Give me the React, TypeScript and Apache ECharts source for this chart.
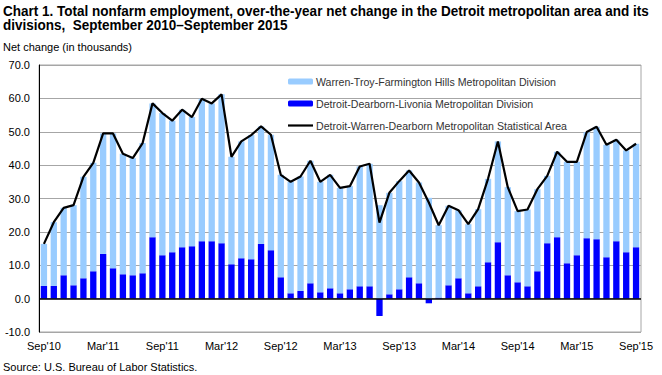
import React, { useEffect, useRef } from "react";
import * as echarts from "echarts";

const months = [
  "Sep'10","Oct'10","Nov'10","Dec'10","Jan'11","Feb'11","Mar'11","Apr'11","May'11","Jun'11","Jul'11","Aug'11",
  "Sep'11","Oct'11","Nov'11","Dec'11","Jan'12","Feb'12","Mar'12","Apr'12","May'12","Jun'12","Jul'12","Aug'12",
  "Sep'12","Oct'12","Nov'12","Dec'12","Jan'13","Feb'13","Mar'13","Apr'13","May'13","Jun'13","Jul'13","Aug'13",
  "Sep'13","Oct'13","Nov'13","Dec'13","Jan'14","Feb'14","Mar'14","Apr'14","May'14","Jun'14","Jul'14","Aug'14",
  "Sep'14","Oct'14","Nov'14","Dec'14","Jan'15","Feb'15","Mar'15","Apr'15","May'15","Jun'15","Jul'15","Aug'15",
  "Sep'15",
];

const warrenTroy = [
  12.6, 19.1, 20.2, 24.0, 30.4, 32.5, 36.1, 40.4, 36.1, 35.1, 39.0, 40.1,
  42.6, 39.4, 41.2, 38.7, 42.7, 41.3, 44.6, 32.2, 35.0, 37.2, 35.2, 34.6,
  30.7, 33.4, 34.3, 36.7, 33.1, 34.0, 31.6, 30.9, 35.9, 36.7, 28.0, 30.4,
  32.4, 32.0, 30.2, 30.2, 21.7, 23.8, 20.4, 20.7, 23.1, 25.0, 30.2, 26.4,
  21.3, 23.0, 24.6, 20.2, 25.6, 30.4, 28.0, 31.8, 33.7, 33.7, 30.4, 30.5,
  31.0,
];

const detroitDearborn = [
  3.8, 3.8, 7.0, 4.0, 6.1, 8.2, 13.4, 9.1, 7.3, 7.0, 7.6, 18.4,
  13.0, 13.9, 15.4, 15.7, 17.2, 17.2, 16.6, 10.3, 12.1, 11.8, 16.4, 14.5,
  6.4, 1.6, 2.3, 4.6, 1.9, 3.1, 1.6, 2.8, 3.7, 3.7, -5.2, 1.3,
  2.8, 6.4, 4.6, -1.4, 0.3, 4.0, 6.1, 1.6, 3.7, 10.9, 16.9, 7.0,
  4.9, 3.7, 8.2, 16.6, 18.4, 10.6, 13.0, 18.1, 17.8, 12.4, 17.2, 13.9,
  15.4,
];

const msaTotal = [
  16.4, 22.9, 27.2, 28.0, 36.5, 40.7, 49.5, 49.5, 43.4, 42.1, 46.6, 58.5,
  55.6, 53.3, 56.6, 54.4, 59.9, 58.5, 61.2, 42.5, 47.1, 49.0, 51.6, 49.1,
  37.1, 35.0, 36.6, 41.3, 35.0, 37.1, 33.2, 33.7, 39.6, 40.4, 22.8, 31.7,
  35.2, 38.4, 34.8, 28.8, 22.0, 27.8, 26.5, 22.3, 26.8, 35.9, 47.1, 33.4,
  26.2, 26.7, 32.8, 36.8, 44.0, 41.0, 41.0, 49.9, 51.5, 46.1, 47.6, 44.4,
  46.4,
];

const seriesNames = [
  "Warren-Troy-Farmington Hills Metropolitan Division",
  "Detroit-Dearborn-Livonia Metropolitan Division",
  "Detroit-Warren-Dearborn Metropolitan Statistical Area",
];

const titleLines = [
  "Chart 1. Total nonfarm employment, over-the-year net change in the Detroit metropolitan area and its",
  "divisions,  September 2010\u2013September 2015",
];
const yAxisTitle = "Net change (in thousands)";
const sourceText = "Source: U.S. Bureau of Labor Statistics.";

const FONT = "'Liberation Sans', Arial, sans-serif";
const TITLE_FONT = "bold 14px 'Liberation Sans', Arial, sans-serif";

function measure(text: string, font: string): number {
  const c = document.createElement("canvas").getContext("2d");
  if (!c) return text.length * 7;
  c.font = font;
  return c.measureText(text).width;
}

export default function App() {
  const ref = useRef<HTMLDivElement>(null);

  useEffect(() => {
    if (!ref.current) return;
    const chart = echarts.init(ref.current, undefined, { renderer: "svg" });
    const w1 = measure(titleLines[0], TITLE_FONT);
    const sx = w1 > 0 ? 646 / w1 : 0.85;
    chart.setOption({
      animation: false,
      backgroundColor: "#ffffff",
      graphic: [
        {
          type: "text",
          x: 3,
          y: 4,
          scaleX: sx,
          style: { text: titleLines[0], font: TITLE_FONT, fill: "#000", verticalAlign: "top" },
        },
        {
          type: "text",
          x: 3,
          y: 18.5,
          scaleX: sx,
          style: { text: titleLines[1], font: TITLE_FONT, fill: "#000", verticalAlign: "top" },
        },
        {
          type: "text",
          left: 3,
          top: 41,
          style: { text: yAxisTitle, font: `11px ${FONT}`, fill: "#000" },
        },
        {
          type: "text",
          left: 3,
          top: 361,
          style: { text: sourceText, font: `11px ${FONT}`, fill: "#000" },
        },
      ],
      legend: {
        orient: "vertical",
        left: 288,
        top: 76,
        itemWidth: 25,
        itemHeight: 6,
        itemGap: 11,
        padding: 0,
        textStyle: { fontFamily: FONT, fontSize: 10.6, color: "#333", padding: [0, 0, 0, -2] },
        data: [
          { name: seriesNames[0] },
          { name: seriesNames[1] },
          { name: seriesNames[2], icon: "path://M0 0H25V2.2H0Z" },
        ],
      },
      grid: {
        left: 39,
        top: 65,
        width: 602,
        bottom: 43,
        show: true,
        borderColor: "#a6a6a6",
        borderWidth: 1,
        containLabel: false,
      },
      xAxis: {
        type: "category",
        data: months,
        boundaryGap: true,
        axisLine: { onZero: false, show: false },
        axisTick: { show: false },
        axisLabel: {
          interval: 5,
          margin: 8,
          fontFamily: FONT,
          fontSize: 11,
          color: "#000",
        },
      },
      yAxis: {
        type: "value",
        min: -10,
        max: 70,
        interval: 10,
        axisLine: { show: true, lineStyle: { color: "#000", width: 1 } },
        axisTick: { show: false },
        axisLabel: {
          margin: 9,
          fontFamily: FONT,
          fontSize: 11,
          color: "#000",
          formatter: (v: number) => v.toFixed(1),
        },
        splitLine: { show: true, lineStyle: { color: "#a6a6a6", width: 1 } },
      },
      series: [
        {
          name: seriesNames[1],
          type: "bar",
          stack: "div",
          data: detroitDearborn,
          barCategoryGap: "36%",
          itemStyle: { color: "#0000ff" },
          markLine: {
            silent: true,
            symbol: "none",
            label: { show: false },
            lineStyle: { color: "#000", width: 1.5, type: "solid" },
            data: [{ yAxis: 0 }],
          },
        },
        {
          name: seriesNames[0],
          type: "bar",
          stack: "div",
          data: warrenTroy,
          barCategoryGap: "36%",
          itemStyle: { color: "#99ccff" },
        },
        {
          name: seriesNames[2],
          type: "line",
          data: msaTotal,
          symbol: "none",
          lineStyle: { color: "#000", width: 2.2 },
          itemStyle: { color: "#000" },
          z: 5,
        },
      ],
    });
    return () => chart.dispose();
  }, []);

  return <div ref={ref} style={{ width: 662, height: 375, position: "absolute", left: 0, top: 0 }} />;
}
